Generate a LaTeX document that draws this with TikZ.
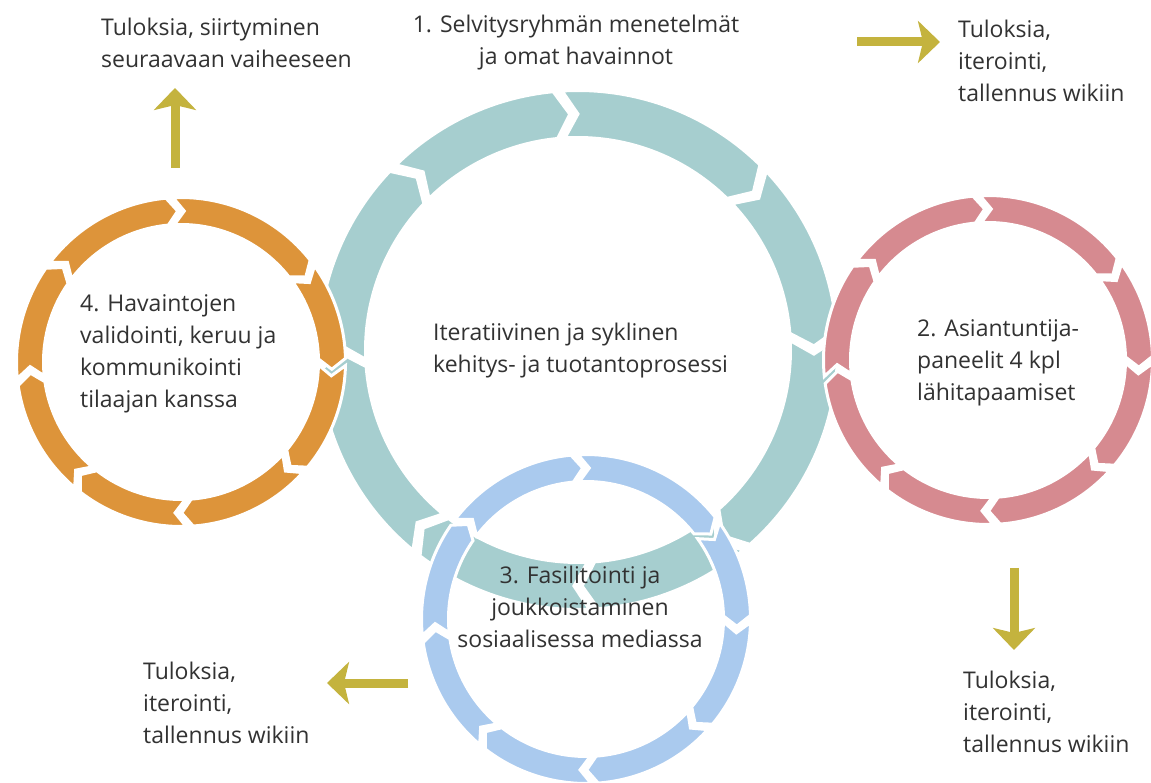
\documentclass[tikz,border=0pt]{standalone}
\usepackage{fontspec}
\setmainfont{Open Sans}
\usetikzlibrary{arrows.meta}
\definecolor{ringteal}{RGB}{166,206,207}
\definecolor{ringorange}{RGB}{221,148,58}
\definecolor{ringpink}{RGB}{214,138,144}
\definecolor{ringblue}{RGB}{170,202,238}
\definecolor{arrowolive}{RGB}{196,179,62}
\definecolor{txtgray}{RGB}{50,50,50}
% #1 outer radius, #2 inner radius, #3 gap (deg), #4 chevron depth (deg), #5 start gap angle, #6 end gap angle, #7 colour
\newcommand\chevseg[7]{%
  \pgfmathsetmacro\sA{#5-#3/2+#4}%
  \pgfmathsetmacro\sN{#5-#3/2}%
  \pgfmathsetmacro\sB{#6+#3/2+#4}%
  \pgfmathsetmacro\sT{#6+#3/2}%
  \pgfmathsetmacro\sM{(#1+#2)/2}%
  \filldraw[fill=#7, draw=white, line width=3pt, line join=miter]
    (\sA:#1pt) arc[start angle=\sA, end angle=\sB, radius=#1pt]
    -- (\sT:\sM pt) -- (\sB:#2pt)
    arc[start angle=\sB, end angle=\sA, radius=#2pt]
    -- (\sN:\sM pt) -- cycle;
}
\tikzset{
  lbl/.style={font=\fontsize{23}{32}\selectfont, text=txtgray, inner sep=0pt, align=left},
  outarrow/.style={draw=arrowolive, line width=9pt,
    -{Stealth[length=22pt, width=42pt, inset=5pt]}},
}
\begin{document}
\begin{tikzpicture}[x=1pt, y=1pt]
\useasboundingbox (0,0) rectangle (1151,782);
\fill[white] (0,0) rectangle (1151,782);

% big teal cycle
\begin{scope}[shift={(578,432)}]
  \foreach \ga/\gb in {91/41, 41/0, 0/-53, -53/-90, -90/-132, -132/-180, -180/-228, -228/-269}
    {\chevseg{259.5}{212.5}{2}{3.5}{\ga}{\gb}{ringteal}}
\end{scope}
% blue cycle
\begin{scope}[shift={(586,163)}]
  \foreach \ga/\gb in {90/33, 33/-4, -4/-45, -45/-91, -91/-133, -133/-177, -177/-220, -220/-270}
    {\chevseg{164.5}{137.5}{2.5}{4}{\ga}{\gb}{ringblue}}
\end{scope}
% orange cycle
\begin{scope}[shift={(181,420)}]
  \foreach \ga/\gb in {90/33, 33/-4, -4/-45, -45/-91, -91/-133, -133/-177, -177/-220, -220/-270}
    {\chevseg{164.5}{137.5}{2.5}{4}{\ga}{\gb}{ringorange}}
\end{scope}
% pink cycle
\begin{scope}[shift={(988,422)}]
  \foreach \ga/\gb in {90/33, 33/-4, -4/-45, -45/-91, -91/-133, -133/-177, -177/-220, -220/-270}
    {\chevseg{164.5}{137.5}{2.5}{4}{\ga}{\gb}{ringpink}}
\end{scope}

% texts
\node[lbl, anchor=west] (tl) at (101,739) {Tuloksia, siirtyminen\\seuraavaan vaiheeseen};
\node[lbl, align=center] (t1) at (576,739) {1. Selvitysryhmän menetelmät\\ja omat havainnot};
\node[lbl, anchor=west] (tr) at (958,721) {Tuloksia,\\iterointi,\\tallennus wikiin};
\node[lbl, anchor=west] (t4) at (80,428) {4. Havaintojen\\validointi, keruu ja\\kommunikointi\\tilaajan kanssa};
\node[lbl, anchor=west] (tc) at (433,431) {Iteratiivinen ja syklinen\\kehitys- ja tuotantoprosessi};
\node[lbl, anchor=west] (t2) at (917,419) {2. Asiantuntija-\\paneelit 4 kpl\\lähitapaamiset};
\node[lbl, align=center] (t3) at (580,175) {3. Fasilitointi ja\\joukkoistaminen\\sosiaalisessa mediassa};
\node[lbl, anchor=west] (bl) at (143,79) {Tuloksia,\\iterointi,\\tallennus wikiin};
\node[lbl, anchor=west] (br) at (963,70) {Tuloksia,\\iterointi,\\tallennus wikiin};

% output arrows
\coordinate (upS) at (175,614);
\coordinate (upE) at (175,694);
\coordinate (rtS) at (857,740);
\coordinate (rtE) at (940,740);
\coordinate (lfS) at (408,99);
\coordinate (lfE) at (327,99);
\coordinate (dnS) at (1014,214);
\coordinate (dnE) at (1014,132);
\draw[outarrow] (upS) -- (upE);
\draw[outarrow] (rtS) -- (rtE);
\draw[outarrow] (lfS) -- (lfE);
\draw[outarrow] (dnS) -- (dnE);
\end{tikzpicture}
\end{document}
